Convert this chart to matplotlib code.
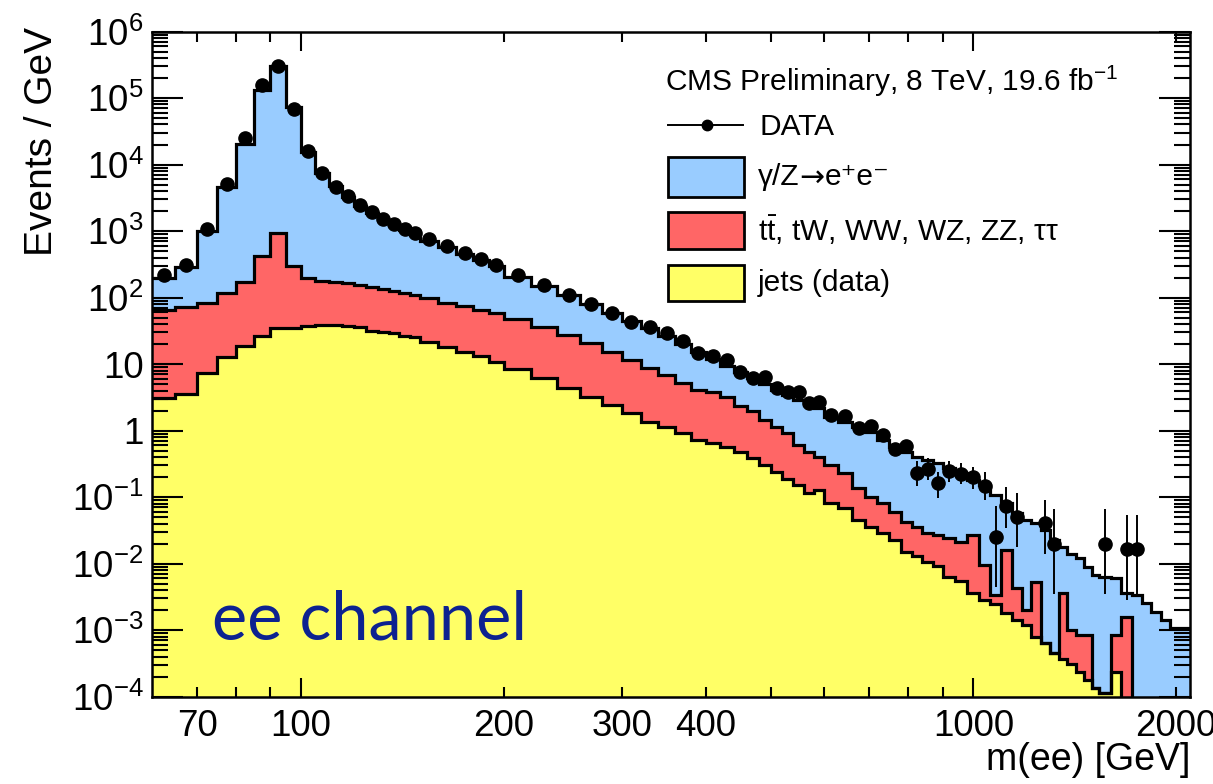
import numpy as np
import matplotlib
matplotlib.use('Agg')
import matplotlib.pyplot as plt
from matplotlib.ticker import FixedLocator, FixedFormatter, LogLocator, FuncFormatter
from matplotlib.patches import Rectangle
from matplotlib.lines import Line2D

# ---- binning (GeV): (start, stop, width) ----
binning = [(60, 150, 5), (150, 200, 10), (200, 600, 20),
           (600, 900, 30), (900, 1540, 40), (1540, 2141, 60)]

# ---- events / GeV per bin ----
data = [218, 308, 1062, 5040, 24770, 156900, 306000, 67600, 15960, 7380,
        4640, 3360, 2460, 1910, 1515, 1274, 1072, 923,
        758, 595, 462, 375, 308,
        218, 154, 109, 79.8, 59, 43.2, 36.4, 29, 22.2, 14.6,
        13.4, 11.5, 7.66, 6.09, 6.3, 4.40, 3.75, 3.75, 2.56, 2.71,
        1.71, 1.67, 1.08, 1.16, 0.855, 0.527, 0.594, 0.232, 0.264, 0.165,
        0.248, 0.224, 0.20, 0.146, 0.0248, 0.074, 0.050, 0, 0, 0.0403,
        0.0196, 0, 0, 0, 0, 0,
        0.0196, 0, 0.0165, 0.0165, 0, 0, 0, 0, 0, 0]

# stacked levels: jets, jets + ttbar/diboson, jets + ttbar/diboson + DY
jets = [3.05, 3.6, 7.4, 12.6, 18.8, 26.4, 35.2, 34.4, 37.3, 38.6,
        38.6, 37.3, 35.6, 31.7, 30.6, 28.9, 26.4, 25.2,
        21.6, 18.2, 15.3, 13.2, 10.8,
        8.4, 6.1, 4.3, 3.22, 2.42, 1.82, 1.36, 1.14, 0.91, 0.72,
        0.649, 0.565, 0.475, 0.386, 0.303, 0.238, 0.187, 0.151, 0.115, 0.127,
        0.0813, 0.0683, 0.0451, 0.0354, 0.0287, 0.0226, 0.0149, 0.0130, 0.01054, 0.00917,
        0.00627, 0.00546, 0.00360, 0.00283, 0.00246, 0.00180, 0.00141, 0.00119,
        0.000785, 0.000638, 0.000451, 0.000366, 0.000308, 0.000234, 0.000177, 0.000134,
        0.000113, 0.000234, 0, 0, 0, 0, 0, 0, 0, 0]

jets_top = [64.9, 71, 81.7, 115.6, 173, 421, 923, 298, 195, 179,
            169, 164, 154, 142, 133, 125, 116, 109,
            97.3, 83.6, 75.3, 64.9, 57.8,
            47.5, 36.4, 27.3, 20.5, 15.3, 11.5, 8.62, 6.83, 5.13, 4.06,
            3.83, 3.22, 2.34, 1.99, 1.44, 1.14, 0.908, 0.605, 0.480, 0.400,
            0.303, 0.230, 0.137, 0.101, 0.0813, 0.0595, 0.0421, 0.0357, 0.0294, 0.0268,
            0.0239, 0.0213, 0.0268, 0.00949, 0.00336, 0.0160, 0.00424, 0.00200,
            0.00532, 0.000638, 0.000451, 0.00356, 0.00100, 0.000841, 0.000841, 0.000134,
            0.000113, 0.000841, 0.00158, 0, 0, 0, 0, 0, 0, 0]

total_mc = [194, 290, 1011, 4637, 20340, 131900, 306200, 72450, 15570, 7378,
            4752, 3302, 2417, 1866, 1489, 1253, 1054, 901,
            707, 574, 451, 366, 298,
            203, 149, 109, 79.8, 58.5, 44.3, 34.8, 26.4, 20.0, 15.1,
            11.9, 9.33, 7.58, 6.16, 5.00, 4.06, 3.42, 2.88, 2.42, 2.16,
            1.61, 1.36, 1.14, 0.959, 0.720, 0.571, 0.480, 0.404, 0.360, 0.321,
            0.270, 0.227, 0.180, 0.1515, 0.107, 0.0804, 0.0569, 0.0451,
            0.0402, 0.0319, 0.0226, 0.0179, 0.0142, 0.0120, 0.00895, 0.00671,
            0.00633, 0.00599, 0.00356, 0.00336, 0.00252, 0.00188, 0.00141, 0.00106,
            0.00106, 0.00106]

# vertical error bars on the sparse high-mass bins
bar_bins = [48, 49, 50, 51, 52, 53, 54, 55, 56, 57, 58, 59, 62, 63, 69, 71, 72]
bar_lo = [0.45, 0.51, 0.148, 0.180, 0.0955, 0.170, 0.155, 0.132, 0.090,
          0.00439, 0.0342, 0.0179, 0.0142, 0.00348, 0.00348, 0.00282, 0.00313]
bar_hi = [0.62, 0.69, 0.348, 0.390, 0.240, 0.348, 0.321, 0.286, 0.235,
          0.074, 0.144, 0.1137, 0.0914, 0.0653, 0.0653, 0.0536, 0.0536]

x_major = [100, 1000]
x_minor = [70, 80, 90, 200, 300, 400, 500, 600, 700, 800, 900, 2000]
x_minor_labels = ['70', '', '', '200', '300', '400', '', '', '', '', '', '2000']

BLUE = '#99ccff'
RED = '#ff6666'
YELLOW = '#ffff66'
NAVY = '#0d2290'
FLOOR = 1e-7

plt.rcParams.update({
    'font.family': ['Liberation Sans', 'DejaVu Sans'],
    'mathtext.fontset': 'custom',
    'mathtext.rm': 'Liberation Sans',
    'mathtext.it': 'Liberation Sans:italic',
    'mathtext.bf': 'Liberation Sans:bold',
})

edges = np.concatenate([np.arange(a, b, w) for a, b, w in binning]).astype(float)
centers = 0.5 * (edges[:-1] + edges[1:])
data = np.array(data, dtype=float)


def level(v):
    v = np.asarray(v, dtype=float)
    return np.where(v > 0, v, FLOOR)


W, H = 1213, 784
fig = plt.figure(figsize=(W / 100, H / 100), dpi=100)
ax = fig.add_axes([152 / W, 1 - 696.7 / H, (1190 - 152) / W, (696.7 - 31.5) / H])
ax.set_axisbelow(False)

# filled stack, drawn back to front
for lv, col in ((total_mc, BLUE), (jets_top, RED), (jets, YELLOW)):
    ax.stairs(level(lv), edges, baseline=FLOOR, fill=True, color=col, lw=0, zorder=1)
for lv in (total_mc, jets_top, jets):
    ax.stairs(level(lv), edges, baseline=None, color='black', lw=2.3, zorder=2)

# data points
bar_bins = np.array(bar_bins)
ax.vlines(centers[bar_bins], bar_lo, bar_hi, color='black', lw=1.4, zorder=5)
has = data > 0
ax.plot(centers[has], data[has], 'o', color='black', ms=9.5, zorder=6)

ax.set_xscale('log')
ax.set_yscale('log')
ax.set_xlim(60, 2100)
ax.set_ylim(1e-4, 1e6)

ax.xaxis.set_major_locator(FixedLocator(x_major))
ax.xaxis.set_major_formatter(FixedFormatter([str(v) for v in x_major]))
ax.xaxis.set_minor_locator(FixedLocator(x_minor))
ax.xaxis.set_minor_formatter(FixedFormatter(x_minor_labels))

ax.yaxis.set_major_locator(LogLocator(base=10, numticks=20))
ax.yaxis.set_minor_locator(LogLocator(base=10, subs=np.arange(2, 10), numticks=20))


def ylab(v, pos):
    e = int(round(np.log10(v)))
    if e == 0:
        return '1'
    if e == 1:
        return '10'
    return '$10^{%d}$' % e


ax.yaxis.set_major_formatter(FuncFormatter(ylab))

ax.tick_params(which='both', direction='in', top=True, right=True, width=1.5,
               labelsize=26.5)
ax.tick_params(axis='x', which='major', length=14, pad=9)
ax.tick_params(axis='x', which='minor', length=7.5, pad=9)
ax.tick_params(axis='y', which='major', length=22, pad=6)
ax.tick_params(axis='y', which='minor', length=11.5)
for s in ax.spines.values():
    s.set_linewidth(1.8)


def fx(px):
    return px / W


def fy(py):
    return 1 - py / H


fig.text(fx(42), fy(27), 'Events / GeV', rotation=90, ha='center', va='top', fontsize=28)
fig.text(fx(1190), fy(760), 'm(ee) [GeV]', ha='right', va='center', fontsize=27)

# legend
fig.text(fx(665), fy(81), r'CMS Preliminary, 8 TeV, 19.6 fb$^{-1}$', va='center', fontsize=21.5)
fig.add_artist(Line2D([fx(668), fx(743)], [fy(125), fy(125)], color='black', lw=1.4))
fig.add_artist(Line2D([fx(707)], [fy(125)], marker='o', ms=7.5, color='black'))
fig.text(fx(760), fy(127), 'DATA', va='center', fontsize=21.5)

renderer = fig.canvas.get_renderer()


def text_run(x_px, y_px, pieces):
    # place text pieces one after another on the same line
    for s, fam in pieces:
        t = fig.text(fx(x_px), fy(y_px), s, va='center', fontsize=21.5, family=fam)
        x_px = t.get_window_extent(renderer).x1


boxes = [(157, 197, BLUE), (212, 249, RED), (265, 301, YELLOW)]
for top, bot, col in boxes:
    fig.add_artist(Rectangle((fx(668), fy(bot)), (744 - 668) / W, (bot - top) / H,
                             facecolor=col, edgecolor='black', lw=2.0))

text_run(758, 177, [('γ/Z', ['Liberation Sans']), ('→', ['DejaVu Sans']),
                    ('e⁺e⁻', ['Liberation Sans', 'DejaVu Sans'])])
fig.text(fx(758), fy(230.5), r't$\bar{\mathrm{t}}$, tW, WW, WZ, ZZ, ττ', va='center', fontsize=21.5)
fig.text(fx(758), fy(283), 'jets (data)', va='center', fontsize=21.5)

fig.text(fx(212), fy(640), 'ee channel', fontsize=48, family='Lato', color=NAVY,
         va='baseline')

fig.savefig('out.png', dpi=100)
